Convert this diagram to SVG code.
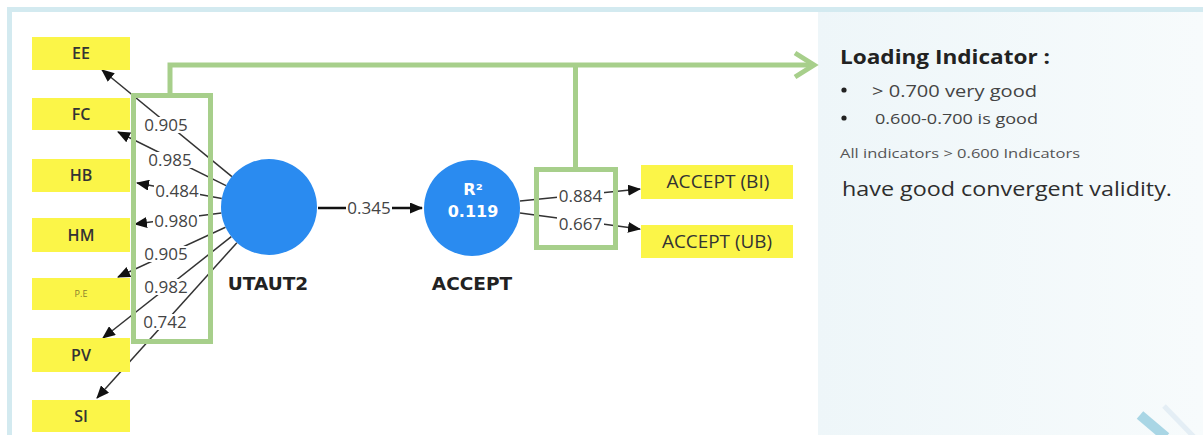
<svg xmlns="http://www.w3.org/2000/svg" width="1203" height="435" viewBox="0 0 1203 435">
<style>
.box{fill:#fbf548}
.lbl{font-family:"Open Sans","Noto Sans","Liberation Sans",sans-serif;font-size:16px;font-weight:600;fill:#333;text-anchor:middle}
.val{font-family:"Open Sans","Noto Sans","Liberation Sans",sans-serif;font-size:17px;fill:#444;text-anchor:middle}
.bg{fill:#ffffff}
.ld{stroke:#333;stroke-width:1.5;fill:none}
.grn{stroke:#a7cf8b;stroke-width:5;fill:none}
.circ{fill:#2a8bf0}
.cap{font-family:"DejaVu Sans","Liberation Sans",sans-serif;font-weight:bold;font-size:18.5px;fill:#222;text-anchor:middle}
.side{font-family:"Open Sans","Noto Sans","Liberation Sans",sans-serif;fill:#333}
</style>
<defs>
<marker id="arr" viewBox="0 0 13 11" refX="12" refY="5.5" markerWidth="13" markerHeight="11" markerUnits="userSpaceOnUse" orient="auto">
<path d="M0,0 L13,5.5 L0,11 z" fill="#111"/>
</marker>
<linearGradient id="pg" x1="0" y1="0" x2="1" y2="0">
<stop offset="0" stop-color="#eef6f9"/>
<stop offset="1" stop-color="#f7fbfc"/>
</linearGradient>
</defs>
<rect x="0" y="0" width="1203" height="435" fill="#ffffff"/>
<rect x="818" y="12" width="385" height="423" fill="url(#pg)"/>
<rect x="9.5" y="9.5" width="1200" height="440" fill="none" stroke="#d3eaf0" stroke-width="5"/>
<line x1="1140" y1="415" x2="1166" y2="437" stroke="#a9d6e5" stroke-width="10"/>
<line x1="1164" y1="406" x2="1194" y2="437" stroke="#e4eef5" stroke-width="5"/>

<g id="connectors">
<line class="ld" x1="231.9" y1="176.6" x2="102" y2="70" marker-end="url(#arr)"/>
<line class="ld" x1="226" y1="185.6" x2="118" y2="132" marker-end="url(#arr)"/>
<line class="ld" x1="221.8" y1="198.4" x2="137" y2="183" marker-end="url(#arr)"/>
<line class="ld" x1="221.4" y1="213" x2="135" y2="224" marker-end="url(#arr)"/>
<line class="ld" x1="225.5" y1="227.2" x2="118" y2="277" marker-end="url(#arr)"/>
<line class="ld" x1="231.3" y1="236.7" x2="103" y2="338" marker-end="url(#arr)"/>
<line class="ld" x1="236.9" y1="242.7" x2="97" y2="398" marker-end="url(#arr)"/>
<line x1="318" y1="208" x2="422" y2="208" stroke="#111" stroke-width="2.5" marker-end="url(#arr)"/>
<line class="ld" x1="520" y1="201" x2="640" y2="189" marker-end="url(#arr)"/>
<line class="ld" x1="520" y1="213" x2="640" y2="229" marker-end="url(#arr)"/>
<g>
<rect class="bg" x="143" y="117" width="46" height="16"/><text class="val" x="166" y="131">0.905</text>
<rect class="bg" x="147" y="152" width="46" height="16"/><text class="val" x="170" y="166">0.985</text>
<rect class="bg" x="154" y="183" width="46" height="16"/><text class="val" x="177" y="197">0.484</text>
<rect class="bg" x="153" y="213" width="46" height="16"/><text class="val" x="176" y="227">0.980</text>
<rect class="bg" x="143" y="246" width="46" height="16"/><text class="val" x="166" y="260">0.905</text>
<rect class="bg" x="143" y="279" width="46" height="16"/><text class="val" x="166" y="293">0.982</text>
<rect class="bg" x="142" y="314" width="46" height="16"/><text class="val" x="165" y="328">0.742</text>
<rect class="bg" x="346" y="200" width="46" height="16"/><text class="val" x="369" y="214">0.345</text>
<rect class="bg" x="557" y="188" width="47" height="16"/><text class="val" x="580.5" y="202">0.884</text>
<rect class="bg" x="557" y="216" width="47" height="16"/><text class="val" x="580.5" y="230">0.667</text>
</g>
<rect class="grn" x="133.5" y="95.5" width="77" height="246"/>
<rect class="grn" x="536.5" y="169.5" width="79" height="78"/>
<polyline class="grn" points="170,95 170,65 813,65"/>
<line class="grn" x1="575.5" y1="65" x2="575.5" y2="169"/>
<polyline class="grn" points="795,53 814,65 795,77" stroke-linejoin="miter"/>
</g>

<g id="EE"><rect class="box" x="32" y="37" width="98" height="33"/><text class="lbl" x="81" y="59">EE</text></g>
<g id="FC"><rect class="box" x="32" y="98" width="98" height="32"/><text class="lbl" x="81" y="120">FC</text></g>
<g id="HB"><rect class="box" x="32" y="159" width="98" height="33"/><text class="lbl" x="81" y="181">HB</text></g>
<g id="HM"><rect class="box" x="32" y="218" width="98" height="34"/><text class="lbl" x="81" y="241">HM</text></g>
<g id="PE"><rect class="box" x="32" y="278" width="98" height="32"/><text class="lbl" x="81" y="297" style="font-size:9px;font-weight:normal;fill:#8a7d2e">P.E</text></g>
<g id="PV"><rect class="box" x="32" y="338" width="98" height="34"/><text class="lbl" x="81" y="361">PV</text></g>
<g id="SI"><rect class="box" x="32" y="400" width="98" height="32"/><text class="lbl" x="81" y="422">SI</text></g>

<g id="UTAUT2"><circle class="circ" cx="269" cy="207" r="48"/><text class="cap" x="268" y="290">UTAUT2</text></g>
<g id="ACCEPT"><circle class="circ" cx="472" cy="208" r="48"/>
<text x="473" y="195" style="font-family:'DejaVu Sans','Liberation Sans',sans-serif;font-weight:bold;font-size:16px;fill:#ffffff;text-anchor:middle">R²</text>
<text x="473" y="217" style="font-family:'DejaVu Sans','Liberation Sans',sans-serif;font-weight:bold;font-size:16px;fill:#ffffff;text-anchor:middle">0.119</text>
<text class="cap" x="472" y="290">ACCEPT</text></g>

<g id="ACCEPT_BI"><rect class="box" x="641" y="165" width="152" height="34"/><text class="lbl" x="718" y="188" style="font-weight:normal;font-size:17.5px" textLength="103" lengthAdjust="spacingAndGlyphs">ACCEPT (BI)</text></g>
<g id="ACCEPT_UB"><rect class="box" x="641" y="225" width="152" height="33"/><text class="lbl" x="717" y="248" style="font-weight:normal;font-size:17.5px" textLength="110" lengthAdjust="spacingAndGlyphs">ACCEPT (UB)</text></g>

<g id="legend">
<text class="side" x="840" y="64" style="font-weight:bold;font-size:20px;fill:#222" textLength="210" lengthAdjust="spacingAndGlyphs">Loading Indicator :</text>
<circle cx="844" cy="90" r="2.6" fill="#222"/>
<text class="side" x="872" y="97" style="font-size:15.5px;fill:#444" textLength="165" lengthAdjust="spacingAndGlyphs">&gt; 0.700 very good</text>
<circle cx="844" cy="118" r="2.6" fill="#222"/>
<text class="side" x="875" y="124" style="font-size:15px;fill:#444" textLength="163" lengthAdjust="spacingAndGlyphs">0.600-0.700 is good</text>
<text class="side" x="840" y="158" style="font-size:13px;fill:#555" textLength="240" lengthAdjust="spacingAndGlyphs">All indicators &gt; 0.600 Indicators</text>
<text class="side" x="842" y="196" style="font-size:20px;fill:#2e2e2e" textLength="330" lengthAdjust="spacingAndGlyphs">have good convergent validity.</text>
</g>
</svg>
